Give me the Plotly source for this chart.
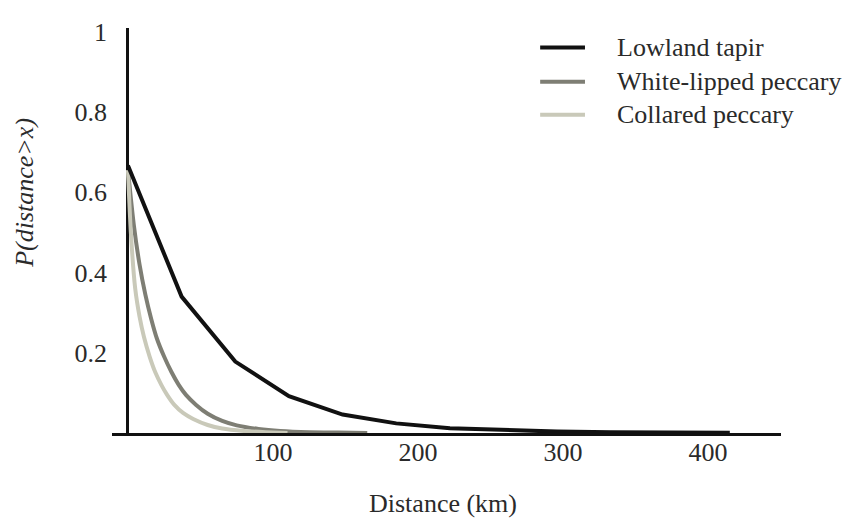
import plotly.graph_objects as go

# ---- data ----
tapir_x = [0, 37, 74, 111, 148, 185, 222, 259, 296, 333, 370, 415]
tapir_y = [0.667, 0.34, 0.178, 0.092, 0.046, 0.024, 0.012, 0.0065, 0.0035, 0.0018, 0.0009, 0.0004]

wlp_x = [0, 4, 8, 12, 16, 20, 25, 30, 35, 40, 47, 55, 65, 75, 90, 105, 125, 145, 165]
wlp_y = [0.655, 0.52, 0.42, 0.345, 0.285, 0.235, 0.19, 0.152, 0.12, 0.095, 0.07, 0.048,
         0.03, 0.019, 0.01, 0.005, 0.002, 0.001, 0.0]

col_x = [0, 2, 5, 8, 11, 15, 19, 23, 27, 32, 38, 45, 55, 65, 80, 95, 110]
col_y = [0.655, 0.5, 0.36, 0.29, 0.24, 0.19, 0.15, 0.12, 0.095, 0.07, 0.05, 0.035,
         0.02, 0.011, 0.005, 0.002, 0.0]

series_names = ["Lowland tapir", "White-lipped peccary", "Collared peccary"]
series_colors = ["#111111", "#7e7e74", "#c9c9b9"]

x_ticks = [100, 200, 300, 400]
y_ticks = [0.2, 0.4, 0.6, 0.8, 1]
y_tick_text = ["0.2", "0.4", "0.6", "0.8", "1"]

FONT = "Liberation Serif"
TXT = "#2a2a2a"
FS = 26

fig = go.Figure()
fig.add_trace(go.Scatter(x=wlp_x, y=wlp_y, mode="lines", name=series_names[1],
                         line=dict(color=series_colors[1], width=4, shape="spline", smoothing=0.6)))
fig.add_trace(go.Scatter(x=col_x, y=col_y, mode="lines", name=series_names[2],
                         line=dict(color=series_colors[2], width=4, shape="spline", smoothing=0.6)))
fig.add_trace(go.Scatter(x=tapir_x, y=tapir_y, mode="lines", name=series_names[0],
                         line=dict(color=series_colors[0], width=4)))

# manual legend
leg_y = [0.952, 0.8675, 0.7855]
for i, yy in enumerate(leg_y):
    fig.add_shape(type="line", xref="paper", yref="paper", x0=0.640, x1=0.707, y0=yy, y1=yy,
                  line=dict(color=series_colors[i], width=4))
    fig.add_annotation(xref="paper", yref="paper", x=0.752, y=yy, xanchor="left", yanchor="middle",
                       text=series_names[i], showarrow=False,
                       font=dict(family=FONT, size=FS, color=TXT))

# axis titles as annotations
fig.add_annotation(xref="paper", yref="paper", x=0.495, y=-0.1735, xanchor="center", yanchor="middle",
                   text="Distance (km)", showarrow=False, font=dict(family=FONT, size=FS, color=TXT))
fig.add_annotation(xref="paper", yref="paper", x=-0.13, y=0.593, xanchor="center", yanchor="middle",
                   text="<i>P(distance&gt;x)</i>", textangle=-90, showarrow=False,
                   font=dict(family=FONT, size=FS, color=TXT))

fig.update_layout(
    width=845, height=520,
    margin=dict(l=104, r=72, t=10, b=95),
    paper_bgcolor="white", plot_bgcolor="white",
    showlegend=False,
    font=dict(family=FONT, size=FS, color=TXT),
    xaxis=dict(range=[-11, 450.3], tickvals=x_ticks, ticktext=[str(v) for v in x_ticks],
               showgrid=False, zeroline=True, zerolinecolor="#111111", zerolinewidth=3,
               showline=True, linecolor="#111111", linewidth=3, ticks="", ticklabelstandoff=-6,
               tickfont=dict(family=FONT, size=FS, color=TXT)),
    yaxis=dict(range=[0, 1.0097], tickvals=y_ticks, ticktext=y_tick_text,
               showgrid=False, zeroline=False, showline=False, ticks="",
               ticklabelstandoff=4,
               tickfont=dict(family=FONT, size=FS, color=TXT)),
)

fig.write_html("out.html")
